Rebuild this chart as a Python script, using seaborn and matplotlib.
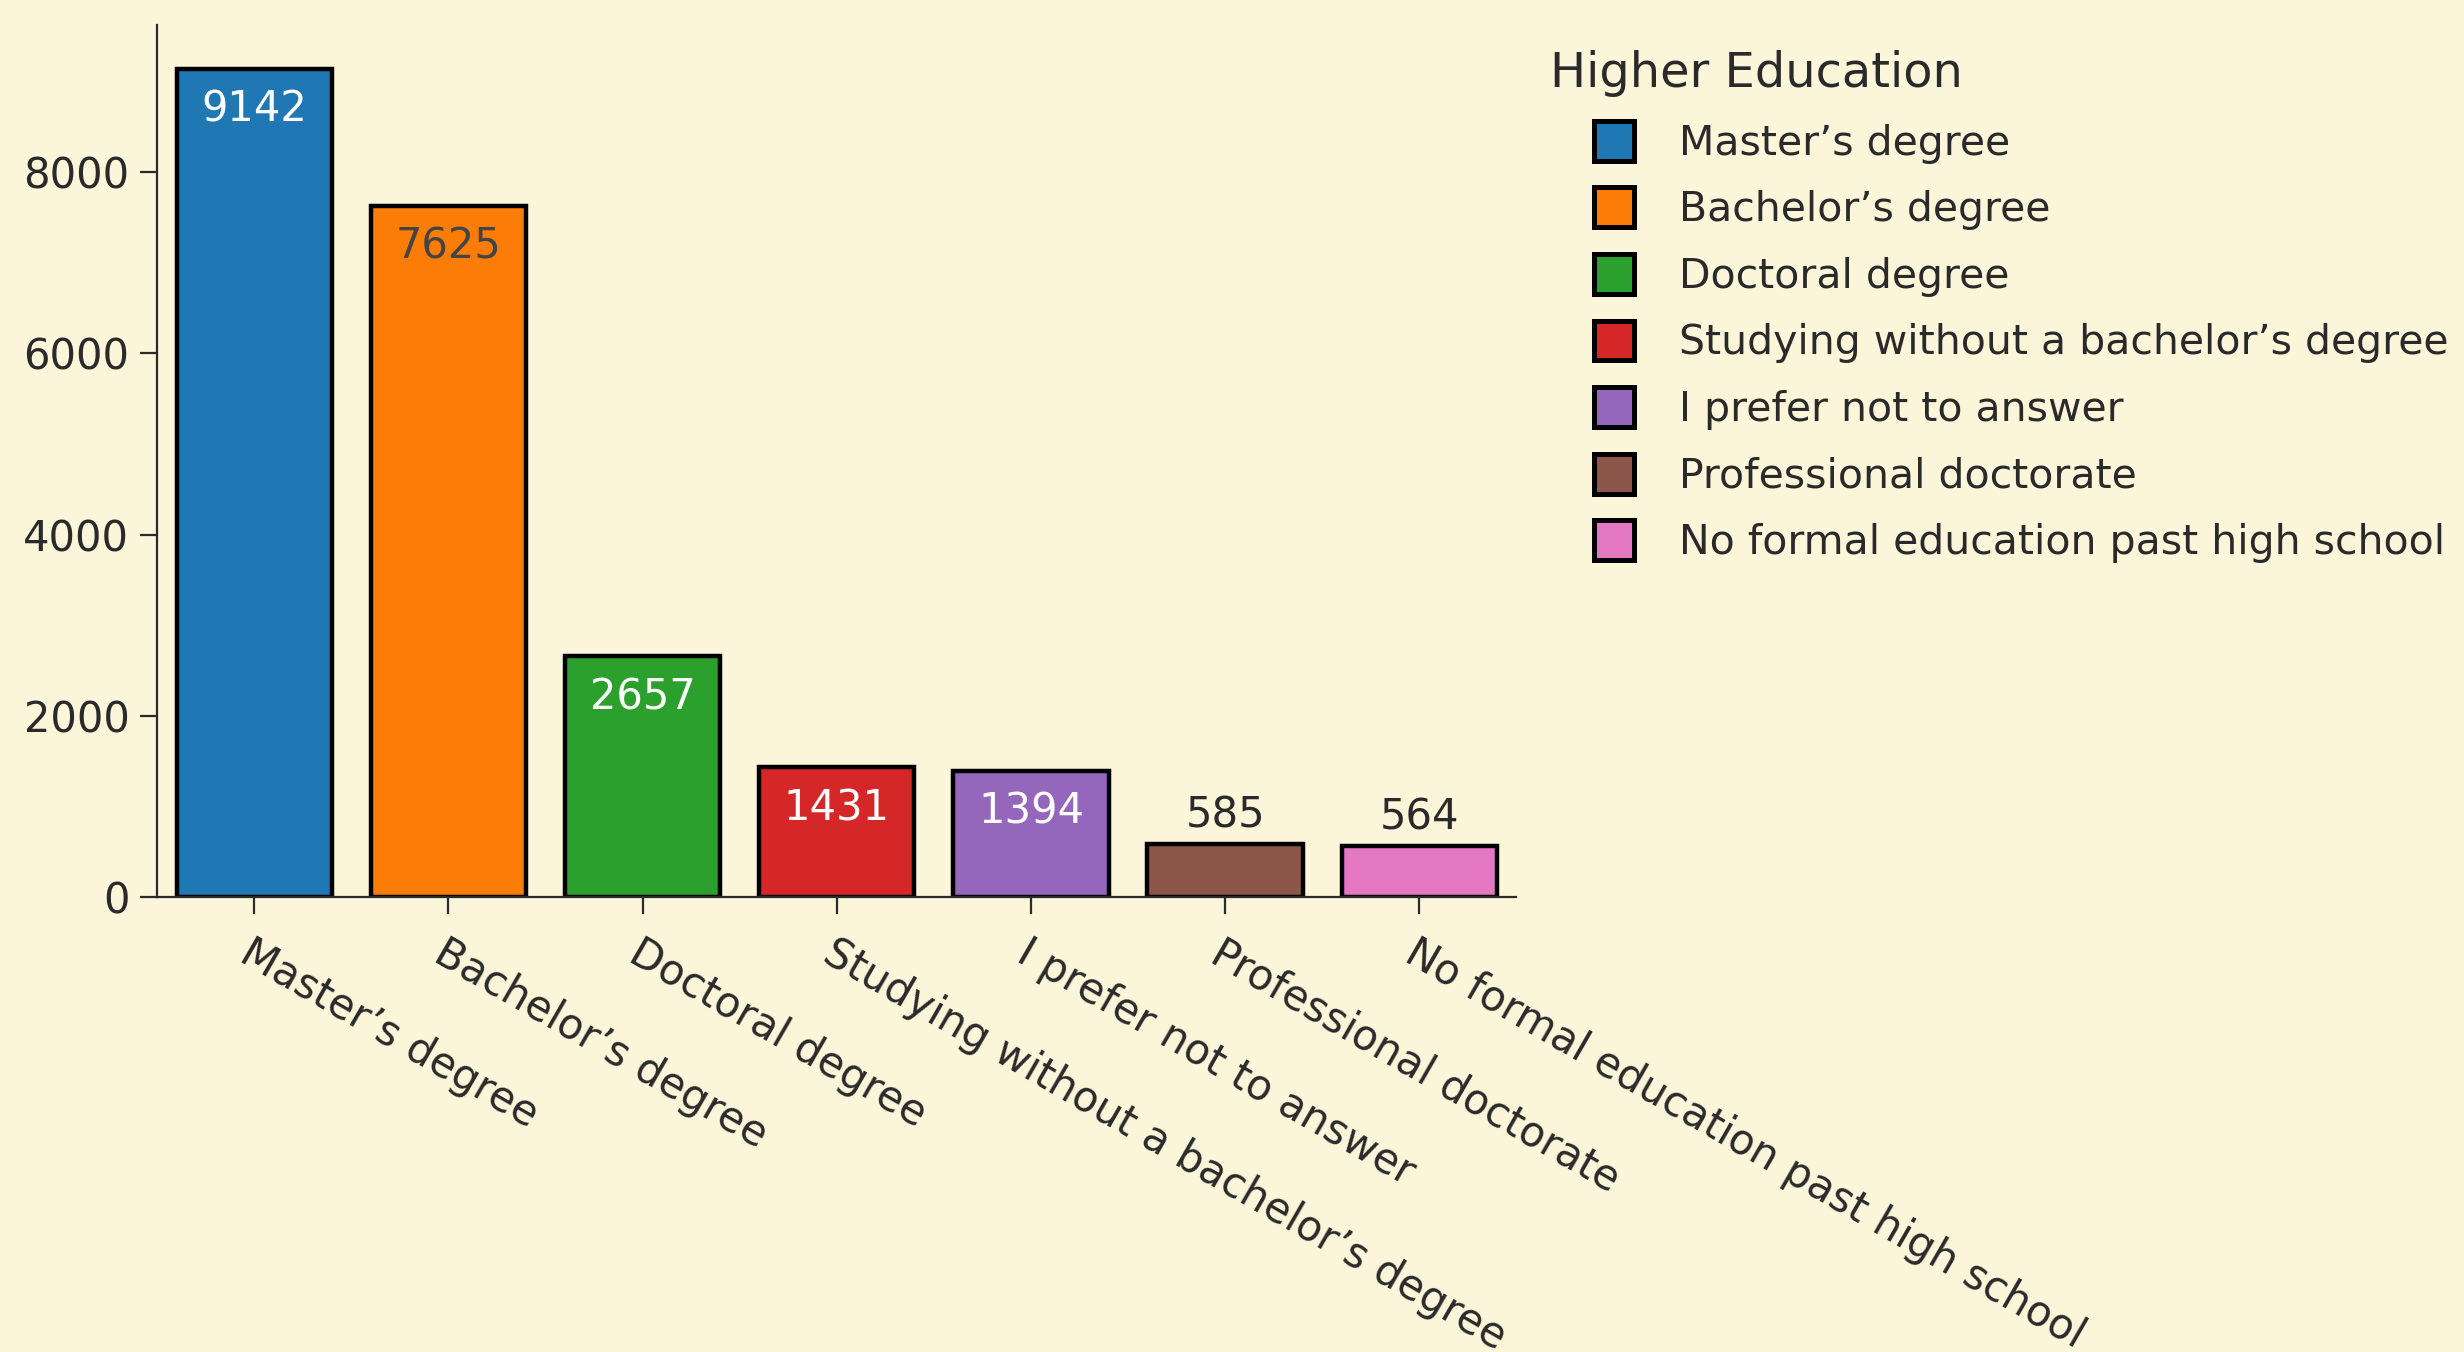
import matplotlib
matplotlib.use("Agg")
import matplotlib.pyplot as plt
from matplotlib.patches import Patch, Rectangle
from matplotlib.legend_handler import HandlerPatch
import seaborn as sns
import pandas as pd

# Survey responses: highest level of formal education
categories = [
    "Master’s degree",
    "Bachelor’s degree",
    "Doctoral degree",
    "Studying without a bachelor’s degree",
    "I prefer not to answer",
    "Professional doctorate",
    "No formal education past high school",
]
counts = [9142, 7625, 2657, 1431, 1394, 585, 564]
palette = ["#1f77b4", "#fb7d07", "#2ca02c", "#d62728", "#9467bd", "#8c564b", "#e377c2"]
y_ticks = [0, 2000, 4000, 6000, 8000]

BG = "#fbf5da"
INK = "#2a2a2a"
FS = 30
LEG_FS = 29.5

sns.set_theme(style="ticks")
plt.rcParams["font.family"] = ["DejaVu Sans"]

df = pd.DataFrame({"education": categories, "count": counts})

fig = plt.figure(figsize=(24.64, 13.52), dpi=100, facecolor=BG)
ax = fig.add_axes([0.0638, 0.3365, 0.5516, 0.645])
ax.set_facecolor(BG)

sns.barplot(
    data=df, x="education", y="count", hue="education", order=categories,
    hue_order=categories, palette=palette, dodge=False, width=0.8,
    edgecolor="black", linewidth=3.2, saturation=1, legend=False, ax=ax,
)

ax.set_xlim(-0.5, len(categories) - 0.5)
ax.set_ylim(0, max(counts) * 1.0526)
ax.set_yticks(y_ticks)
ax.set_xlabel("")
ax.set_ylabel("")

for side in ("top", "right"):
    ax.spines[side].set_visible(False)
for side in ("left", "bottom"):
    ax.spines[side].set_color(INK)
    ax.spines[side].set_linewidth(1.6)

ax.tick_params(axis="both", colors=INK, labelcolor=INK, labelsize=FS,
               length=12, width=1.6, direction="out")
ax.tick_params(axis="y", pad=8)
ax.tick_params(axis="x", pad=13)
ax.set_xticks(range(len(categories)))
ax.set_xticklabels(categories)
plt.setp(ax.get_xticklabels(), rotation=-30, ha="left", va="top",
         rotation_mode="anchor")


def brightness(hex_color):
    r, g, b = (int(hex_color[i:i + 2], 16) for i in (1, 3, 5))
    return (r * 299 + g * 587 + b * 114) / 1000


# Value labels: inside the top of tall bars, above short ones
ymax = ax.get_ylim()[1]
for i, (val, col) in enumerate(zip(counts, palette)):
    if val / ymax > 0.1:
        tcol = "white" if brightness(col) < 128 else "#444444"
        ax.annotate(f"{val}", xy=(i, val), xytext=(0, -38), textcoords="offset points",
                    ha="center", va="baseline", fontsize=FS, color=tcol)
    else:
        ax.annotate(f"{val}", xy=(i, val), xytext=(0, 12), textcoords="offset points",
                    ha="center", va="baseline", fontsize=FS, color=INK)


class OffsetSquare(HandlerPatch):
    def __init__(self):
        super().__init__(patch_func=self._square)

    @staticmethod
    def _square(legend, orig_handle, xdescent, ydescent, width, height, fontsize):
        return Rectangle((-xdescent + width - height, -ydescent), height, height)


handles = [Patch(facecolor=c, edgecolor="black", linewidth=3.6) for c in palette]
leg = fig.legend(
    handles, categories, title="Higher Education", loc="upper left",
    bbox_to_anchor=(0.629, 0.963), frameon=False, fontsize=LEG_FS,
    title_fontsize=34.5, alignment="left", borderpad=0, borderaxespad=0,
    handlelength=2.05, handleheight=1.12, handletextpad=1.1, labelspacing=0.58,
    handler_map={Patch: OffsetSquare()},
)
for t in leg.get_texts():
    t.set_color(INK)
leg.get_title().set_color(INK)

fig.savefig("out.png", dpi=100, facecolor=BG)
